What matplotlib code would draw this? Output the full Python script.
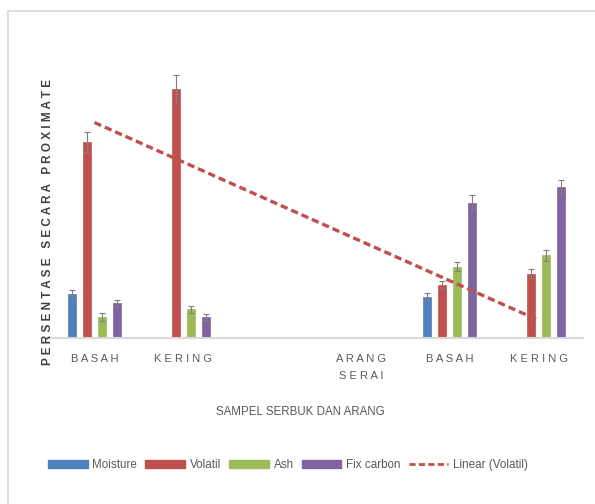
import numpy as np
import matplotlib
matplotlib.use("Agg")
import matplotlib.pyplot as plt
from matplotlib.patches import Patch, Rectangle
from matplotlib.lines import Line2D

# Sample categories (third slot is left blank, ARANG SERAI has no readings)
categories = ["BASAH", "KERING", "", "ARANG\nSERAI", "BASAH", "KERING"]

# Proximate values (%) per category, nan = empty cell
moisture = [13.9, 0.0, np.nan, 0.0, 13.1, 0.0]
volatil = [63.1, 80.3, np.nan, 0.0, 16.9, 20.6]
ash = [6.6, 9.1, np.nan, 0.0, 22.8, 26.5]
fix_carbon = [11.0, 6.5, np.nan, 0.0, 43.4, 48.4]

# Standard error of each value
moisture_err = [1.4, np.nan, np.nan, np.nan, 1.1, np.nan]
volatil_err = [3.2, 4.3, np.nan, np.nan, 1.3, 1.4]
ash_err = [1.4, 1.2, np.nan, np.nan, 1.4, 1.8]
fix_carbon_err = [1.1, 1.0, np.nan, np.nan, 2.5, 2.4]

series_names = ["Moisture", "Volatil", "Ash", "Fix carbon"]
colors = ["#4F81BD", "#C0504D", "#9BBB59", "#8064A2"]

sans = ["Liberation Sans", "DejaVu Sans"]
text_grey = "#595959"


def spaced(s):
    # spread letters out a little, keep line breaks
    return "\n".join(" ".join(line) for line in s.split("\n"))


fig = plt.figure(figsize=(5.95, 5.04), dpi=100)

# outer chart frame
fig.patches.append(Rectangle((8 / 595, -0.1), 1.2, 1.1 - 11 / 504,
                             transform=fig.transFigure, fill=False,
                             edgecolor="#d9d9d9", linewidth=1.2))

ax = fig.add_axes([50 / 595, 1 - 337.5 / 504, 533 / 595, 279 / 504])

x = np.arange(len(categories))
width = 0.09
offset = 0.169
data = [moisture, volatil, ash, fix_carbon]
errs = [moisture_err, volatil_err, ash_err, fix_carbon_err]

for i, (vals, err, col) in enumerate(zip(data, errs, colors)):
    pos = x + (i - 1.5) * offset
    ax.bar(pos, vals, width=width, color=col, edgecolor=col, linewidth=0.5,
           yerr=err, error_kw=dict(ecolor="#7f7f7f", elinewidth=0.8,
                                   capsize=2.5, capthick=0.8))

# linear trend of volatil over the filled categories
vol = np.array(volatil)
ok = ~np.isnan(vol)
coef = np.polyfit(x[ok], vol[ok], 1)
xt = np.array([x[0], x[-1]])
ax.plot(xt, np.polyval(coef, xt), linestyle=(0, (2.2, 1.2)), color="#C0504D",
        linewidth=2.4, dash_capstyle="butt")

ax.set_xlim(-0.5, len(categories) - 0.5)
ax.set_ylim(0, 90)
for side in ["top", "right", "left"]:
    ax.spines[side].set_visible(False)
ax.spines["bottom"].set_color("#d9d9d9")
ax.spines["bottom"].set_linewidth(1.5)
ax.set_yticks([])
ax.set_xticks(x)
ax.set_xticklabels([spaced(c) for c in categories], fontsize=8,
                   family=sans, color=text_grey, linespacing=1.9)
ax.tick_params(axis="x", length=0, pad=12)

fig.text(48 / 595, 1 - 222 / 504, spaced("PERSENTASE SECARA PROXIMATE"),
         rotation=90, ha="center", va="center", fontsize=8.5, fontweight="bold",
         color="#404040", family=sans)
fig.text(300 / 595, 1 - 412 / 504, "SAMPEL SERBUK DAN ARANG", ha="center",
         va="center", fontsize=8.3, color=text_grey, family=sans)

handles = [Patch(facecolor=c, edgecolor=c) for c in colors]
handles.append(Line2D([0], [0], color="#C0504D", linewidth=2,
                      linestyle=(0, (2.2, 1.2))))
labels = series_names + ["Linear (Volatil)"]
fig.legend(handles, labels, loc="center", bbox_to_anchor=(288 / 595, 1 - 465 / 504),
           ncol=5, frameon=False, handlelength=3.4, handletextpad=0.4,
           columnspacing=0.7, prop={"family": sans, "size": 8.4},
           labelcolor=text_grey)

fig.savefig("out.png", dpi=100)
